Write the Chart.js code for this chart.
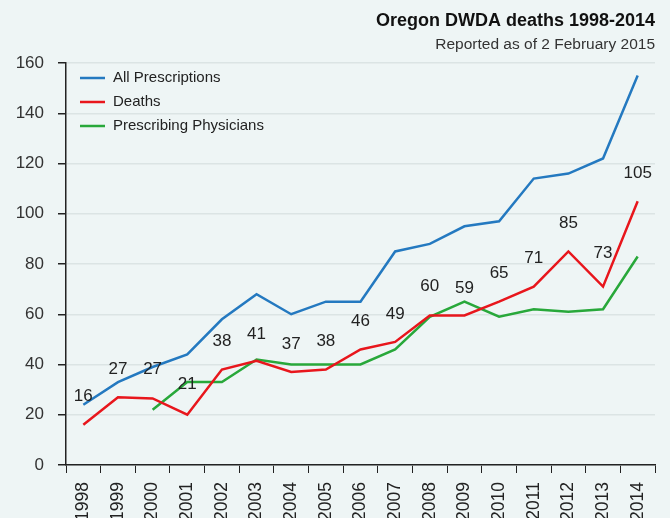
<!DOCTYPE html>
<html>
<head>
<meta charset="utf-8">
<script src="https://cdn.jsdelivr.net/npm/chart.js@4.4.1/dist/chart.umd.min.js"></script>
<style>
html,body{margin:0;padding:0;background:#eef5f5;overflow:hidden;}
#wrap{width:670px;height:518px;}
</style>
</head>
<body>
<div id="wrap"><canvas id="c" width="670" height="518"></canvas></div>
<script>
const years = ['1998','1999','2000','2001','2002','2003','2004','2005','2006','2007','2008','2009','2010','2011','2012','2013','2014'];
const prescriptions = [24,33,39,44,58,68,60,65,65,85,88,95,97,114,116,122,155];
const deaths = [16,27,26.5,20,38,41.5,37,38,46,49,59.5,59.5,65,71,85,71,105];
const deathLabels = [16,27,27,21,38,41,37,38,46,49,60,59,65,71,85,73,105];
const physicians = [null,null,22,33,33,42,40,40,40,46,59,65,59,62,61,62,83];
const yTicks = [0,20,40,60,80,100,120,140,160];
const titleText = 'Oregon DWDA deaths 1998-2014';
const subtitleText = 'Reported as of 2 February 2015';
const FONT = '"Liberation Sans", Arial, sans-serif';

const bgPlugin = {
  id:'bg',
  beforeDraw(chart){
    const c = chart.ctx;
    c.save(); c.fillStyle = '#eef5f5'; c.fillRect(0,0,chart.width,chart.height); c.restore();
  }
};

const decorPlugin = {
  id:'decor',
  afterDatasetsDraw(chart){
    const c = chart.ctx;
    const xs = chart.scales.x, ys = chart.scales.y;
    c.save();
    // title
    c.fillStyle = '#111';
    c.textAlign = 'right';
    c.textBaseline = 'middle';
    c.font = 'bold 18px ' + FONT;
    c.fillText(titleText, 655, 21);
    c.fillStyle = '#333';
    c.font = '15.5px ' + FONT;
    c.fillText(subtitleText, 655, 45);
    // legend
    c.textAlign = 'left';
    c.font = '15px ' + FONT;
    chart.data.datasets.forEach((ds, i) => {
      const y = 78 + i * 24;
      c.strokeStyle = ds.borderColor;
      c.lineWidth = 2.5;
      c.beginPath(); c.moveTo(80, y); c.lineTo(105, y); c.stroke();
      c.fillStyle = '#222';
      c.fillText(ds.label, 113, y);
    });
    // death value labels
    c.textAlign = 'center';
    c.font = '17px ' + FONT;
    c.fillStyle = '#222';
    deathLabels.forEach((v, i) => {
      const x = xs.getPixelForValue(i);
      const y = ys.getPixelForValue(v) - 28;
      c.fillText(String(v), x, y);
    });
    c.restore();
  }
};

new Chart(document.getElementById('c'), {
  type:'line',
  data:{
    labels: years,
    datasets:[
      {label:'All Prescriptions', data:prescriptions, borderColor:'#2479c0', borderWidth:2.5, pointRadius:0, tension:0, fill:false},
      {label:'Deaths', data:deaths, borderColor:'#e8161c', borderWidth:2.5, pointRadius:0, tension:0, fill:false},
      {label:'Prescribing Physicians', data:physicians, borderColor:'#28a83a', borderWidth:2.5, pointRadius:0, tension:0, fill:false, spanGaps:false}
    ]
  },
  options:{
    responsive:false,
    animation:false,
    layout:{padding:{top:63,right:15,left:0,bottom:0}},
    plugins:{legend:{display:false}, tooltip:{enabled:false}, title:{display:false}},
    scales:{
      x:{
        type:'category',
        offset:true,
        grid:{offset:true, drawOnChartArea:false, drawTicks:true, tickLength:8, tickColor:'#222', color:'#222'},
        border:{color:'#222', width:1.5},
        ticks:{maxRotation:90, minRotation:90, autoSkip:false, color:'#222', padding:9, font:{size:17.5, family:FONT}},
        afterFit(s){ s.height = 53; }
      },
      y:{
        min:0, max:160,
        afterBuildTicks(s){ s.ticks = yTicks.map(v => ({value:v})); },
        grid:{color:'#dbe4e4', lineWidth:1.5, drawTicks:true, tickLength:8, tickColor:'#222'},
        border:{color:'#222', width:1.5},
        ticks:{color:'#333', padding:14, font:{size:17, family:FONT}},
        afterFit(s){ s.width = 66; }
      }
    }
  },
  plugins:[bgPlugin, decorPlugin]
});
</script>
</body>
</html>
